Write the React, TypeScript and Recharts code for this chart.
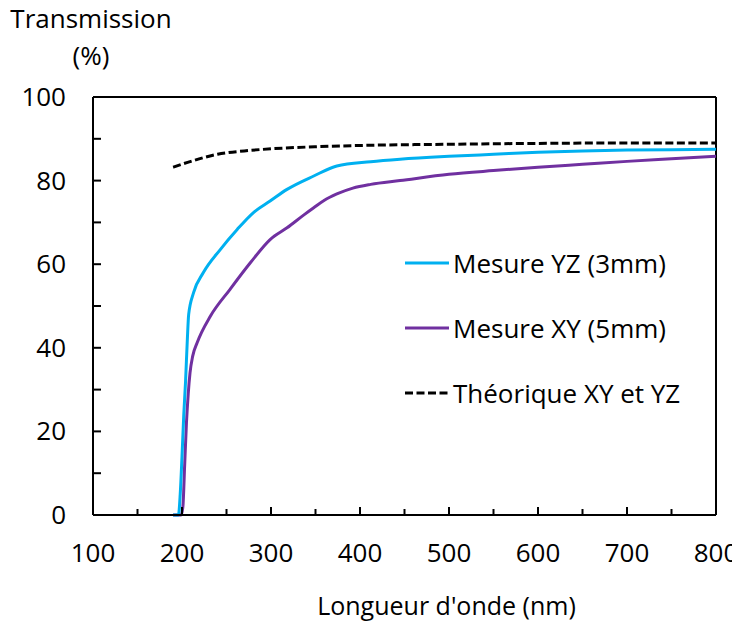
import { LineChart, Line, XAxis, YAxis, ReferenceLine } from 'recharts';

// Mesure YZ (3mm)
const yzWave = [190, 196, 198, 200, 202, 204, 206, 207.5, 213, 224, 243, 262, 280, 299, 318, 348, 374, 412, 445, 500, 550, 600, 650, 700, 750, 800];
const yzTrans = [0, 0, 5, 14, 24, 32, 42, 48, 53.2, 58, 63.5, 68.3, 72.3, 75.1, 77.9, 81.1, 83.5, 84.5, 85.1, 85.8, 86.3, 86.8, 87.1, 87.3, 87.4, 87.5];

// Mesure XY (5mm)
const xyWave = [190, 199, 201, 203, 205, 207, 209, 212, 217, 232, 254, 277, 299, 318, 337, 348, 360, 374, 392, 412, 445, 500, 550, 600, 650, 700, 750, 800];
const xyTrans = [0, 0, 2, 12, 22, 29, 34, 38, 41.2, 47.6, 54, 60.4, 65.9, 68.7, 71.8, 73.5, 75.3, 76.8, 78.2, 79.1, 80, 81.5, 82.4, 83.2, 83.9, 84.6, 85.2, 85.8];

// Théorique XY et YZ
const thWave = [190, 210, 240, 270, 300, 350, 400, 500, 600, 700, 800];
const thTrans = [83.2, 84.6, 86.3, 87.1, 87.6, 88.1, 88.4, 88.7, 88.9, 89, 89];

const xTicks = [100, 150, 200, 250, 300, 350, 400, 450, 500, 550, 600, 650, 700, 750, 800];
const yTicks = [0, 10, 20, 30, 40, 50, 60, 70, 80, 90, 100];

const legendItems = [
  { label: 'Mesure YZ (3mm)', color: '#00B0F0', dash: undefined },
  { label: 'Mesure XY (5mm)', color: '#7030A0', dash: undefined },
  { label: 'Théorique XY et YZ', color: '#000000', dash: '8 3.5' },
];

const toPoints = (xs: number[], ys: number[]) => xs.map((x, i) => ({ x, y: ys[i] }));

const FONT = '"Open Sans", sans-serif';
const FS = 26;

const XTick = (props: any) => {
  const { x, y, payload } = props;
  const major = payload.value % 100 === 0;
  return (
    <g>
      <line x1={x} x2={x} y1={y} y2={y - (major ? 8 : 6)} stroke="#000" strokeWidth={2} />
      {major && (
        <text x={x} y={y + 47} textAnchor="middle" fontSize={FS} fontFamily={FONT} fill="#000">
          {payload.value}
        </text>
      )}
    </g>
  );
};

const YTick = (props: any) => {
  const { x, y, payload } = props;
  const major = payload.value % 20 === 0;
  return (
    <g>
      <line x1={x} x2={x + 8} y1={y} y2={y} stroke="#000" strokeWidth={2} />
      {major && (
        <text x={x - 27} y={y + 9} textAnchor="end" fontSize={FS} fontFamily={FONT} fill="#000">
          {payload.value}
        </text>
      )}
    </g>
  );
};

export default function App() {
  return (
    <div style={{ position: 'relative', width: 732, height: 617, fontFamily: FONT, color: '#000' }}>
      <style>{'body { overflow: hidden; } svg.recharts-surface { overflow: visible !important; }'}</style>
      <div style={{ position: 'absolute', left: 0, top: -8, width: 166, textAlign: 'center', fontSize: FS, lineHeight: '37px' }}>
        <div>Transmission</div>
        <div>(%)</div>
      </div>
      <div style={{ position: 'absolute', left: 397, top: 222, fontSize: FS, zIndex: 2 }}>
        {legendItems.map((item) => (
          <div key={item.label} style={{ display: 'flex', alignItems: 'center', height: 65 }}>
            <svg width={44} height={10} style={{ marginRight: 4 }}>
              <line x1={0} x2={44} y1={5} y2={5} stroke={item.color} strokeWidth={3} strokeDasharray={item.dash} />
            </svg>
            <span>{item.label}</span>
          </div>
        ))}
      </div>
      <LineChart width={732} height={617} margin={{ top: 89, right: 24, left: 0, bottom: 0 }}>
        <XAxis
          xAxisId="main"
          dataKey="x"
          type="number"
          domain={[100, 800]}
          ticks={xTicks}
          interval={0}
          allowDataOverflow
          height={110}
          tickSize={0}
          tickMargin={0}
          tickLine={false}
          tick={<XTick />}
          axisLine={{ stroke: '#000', strokeWidth: 2 }}
          label={{ value: "Longueur d'onde (nm)", position: 'insideBottom', offset: 10, dx: 42, fontSize: 25, fontFamily: FONT, fill: '#000' }}
        />
        <YAxis
          yAxisId="main"
          type="number"
          domain={[0, 100]}
          ticks={yTicks}
          interval={0}
          width={85}
          tickSize={0}
          tickMargin={0}
          tickLine={false}
          tick={<YTick />}
          axisLine={{ stroke: '#000', strokeWidth: 2 }}
        />
        <ReferenceLine xAxisId="main" yAxisId="main" y={100} stroke="#000" strokeWidth={2} />
        <ReferenceLine xAxisId="main" yAxisId="main" x={800} stroke="#000" strokeWidth={2} />
        <Line xAxisId="main" yAxisId="main" data={toPoints(thWave, thTrans)} dataKey="y" type="monotone" stroke="#000" strokeWidth={3} strokeDasharray="8 3.5" dot={false} isAnimationActive={false} />
        <Line xAxisId="main" yAxisId="main" data={toPoints(xyWave, xyTrans)} dataKey="y" type="monotone" stroke="#7030A0" strokeWidth={3} dot={false} isAnimationActive={false} />
        <Line xAxisId="main" yAxisId="main" data={toPoints(yzWave, yzTrans)} dataKey="y" type="monotone" stroke="#00B0F0" strokeWidth={3} dot={false} isAnimationActive={false} />
      </LineChart>
    </div>
  );
}
